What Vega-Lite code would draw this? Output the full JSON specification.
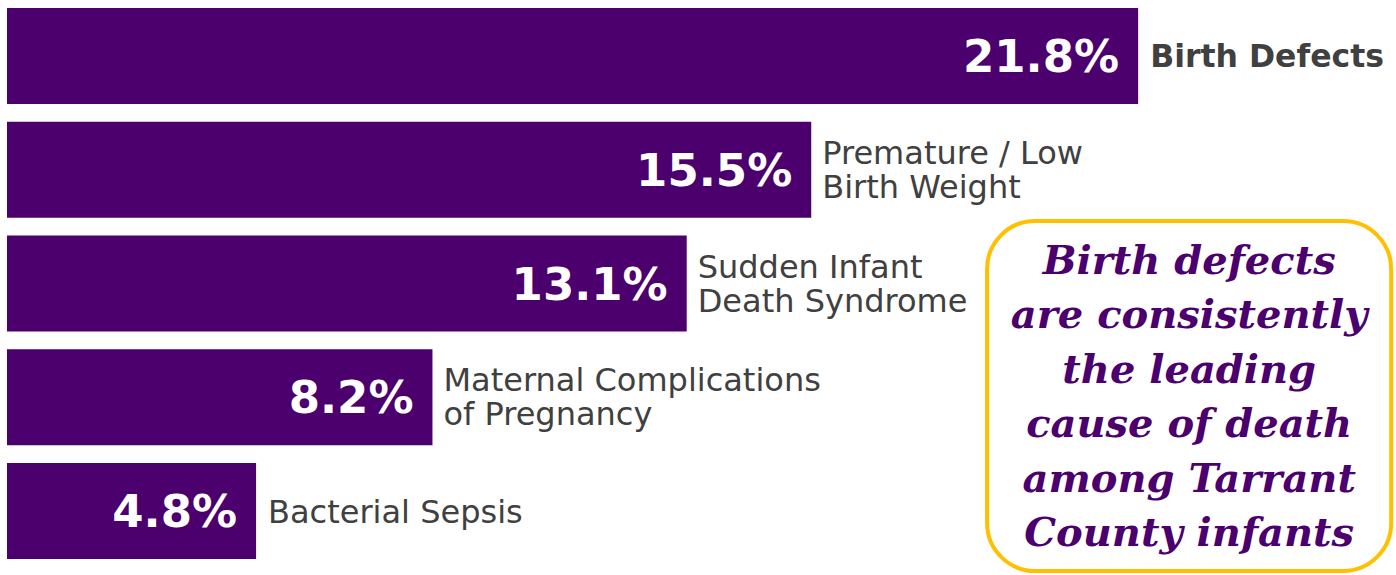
{
  "$schema": "https://vega.github.io/schema/vega-lite/v6.json",
  "width": 1396,
  "height": 575,
  "padding": 0,
  "autosize": {"type": "none"},
  "background": "white",
  "config": {"view": {"stroke": null}},
  "datasets": {
    "causes": [
      {"cause": "Birth Defects", "label": "Birth Defects", "share": 0.218, "bold": true},
      {"cause": "Premature / Low Birth Weight", "label": "Premature / Low\nBirth Weight", "share": 0.155, "bold": false},
      {"cause": "Sudden Infant Death Syndrome", "label": "Sudden Infant\nDeath Syndrome", "share": 0.131, "bold": false},
      {"cause": "Maternal Complications of Pregnancy", "label": "Maternal Complications\nof Pregnancy", "share": 0.082, "bold": false},
      {"cause": "Bacterial Sepsis", "label": "Bacterial Sepsis", "share": 0.048, "bold": false}
    ],
    "note": [
      {"note": "Birth defects\nare consistently\nthe leading\ncause of death\namong Tarrant\nCounty infants"}
    ]
  },
  "layer": [
    {
      "data": {"name": "causes"},
      "encoding": {
        "y": {
          "field": "cause",
          "type": "nominal",
          "sort": null,
          "scale": {"range": [8, 559], "paddingInner": 0.156, "paddingOuter": 0},
          "axis": null
        }
      },
      "layer": [
        {
          "mark": {"type": "bar", "color": "#4B006E"},
          "encoding": {
            "x": {"field": "share", "type": "quantitative", "scale": {"domain": [-0.00135, 0.2677], "nice": false, "zero": false}, "axis": null},
            "x2": {"datum": 0}
          }
        },
        {
          "mark": {"type": "text", "align": "right", "baseline": "middle", "dx": -19, "dy": 2, "color": "white", "font": "DejaVu Sans", "fontWeight": "bold", "fontSize": 45},
          "encoding": {
            "x": {"field": "share", "type": "quantitative"},
            "text": {"field": "share", "type": "quantitative", "format": ".1%"}
          }
        },
        {
          "transform": [{"filter": "datum.bold"}],
          "mark": {"type": "text", "align": "left", "baseline": "middle", "dx": 12, "dy": 2, "color": "#404040", "font": "DejaVu Sans", "fontWeight": "bold", "fontSize": 31.5},
          "encoding": {
            "x": {"field": "share", "type": "quantitative"},
            "text": {"field": "label"}
          }
        },
        {
          "transform": [{"filter": "!datum.bold && indexof(datum.label, '\\n') < 0"}],
          "mark": {"type": "text", "align": "left", "baseline": "middle", "dx": 12, "dy": 2, "color": "#404040", "font": "DejaVu Sans", "fontSize": 32},
          "encoding": {
            "x": {"field": "share", "type": "quantitative"},
            "text": {"field": "label"}
          }
        },
        {
          "transform": [{"filter": "!datum.bold && indexof(datum.label, '\\n') >= 0"}],
          "mark": {"type": "text", "align": "left", "baseline": "middle", "dx": 11, "dy": -16, "color": "#404040", "font": "DejaVu Sans", "fontSize": 32, "lineBreak": "\n", "lineHeight": 34},
          "encoding": {
            "x": {"field": "share", "type": "quantitative"},
            "text": {"field": "label"}
          }
        }
      ]
    },
    {
      "data": {"name": "note"},
      "encoding": {
        "y": {"datum": 2.4505, "type": "quantitative", "scale": {"domain": [0.5077, 5.5626], "reverse": true, "nice": false, "zero": false}, "axis": null}
      },
      "layer": [
        {
          "mark": {"type": "rect", "fill": "white", "stroke": "#FFC000", "strokeWidth": 4, "cornerRadius": 48},
          "encoding": {
            "x": {"datum": 0.18889, "type": "quantitative"},
            "x2": {"datum": 0.26677},
            "y": {"datum": 2.4505, "type": "quantitative"},
            "y2": {"datum": 5.5275}
          }
        },
        {
          "mark": {"type": "text", "align": "center", "baseline": "middle", "color": "#4B006E", "font": "DejaVu Serif", "fontWeight": "bold", "fontStyle": "italic", "fontSize": 40, "lineBreak": "\n", "lineHeight": 54.4},
          "encoding": {
            "x": {"datum": 0.22784, "type": "quantitative"},
            "y": {"datum": 2.811, "type": "quantitative"},
            "text": {"field": "note"}
          }
        }
      ]
    }
  ],
  "resolve": {"scale": {"y": "independent"}}
}
